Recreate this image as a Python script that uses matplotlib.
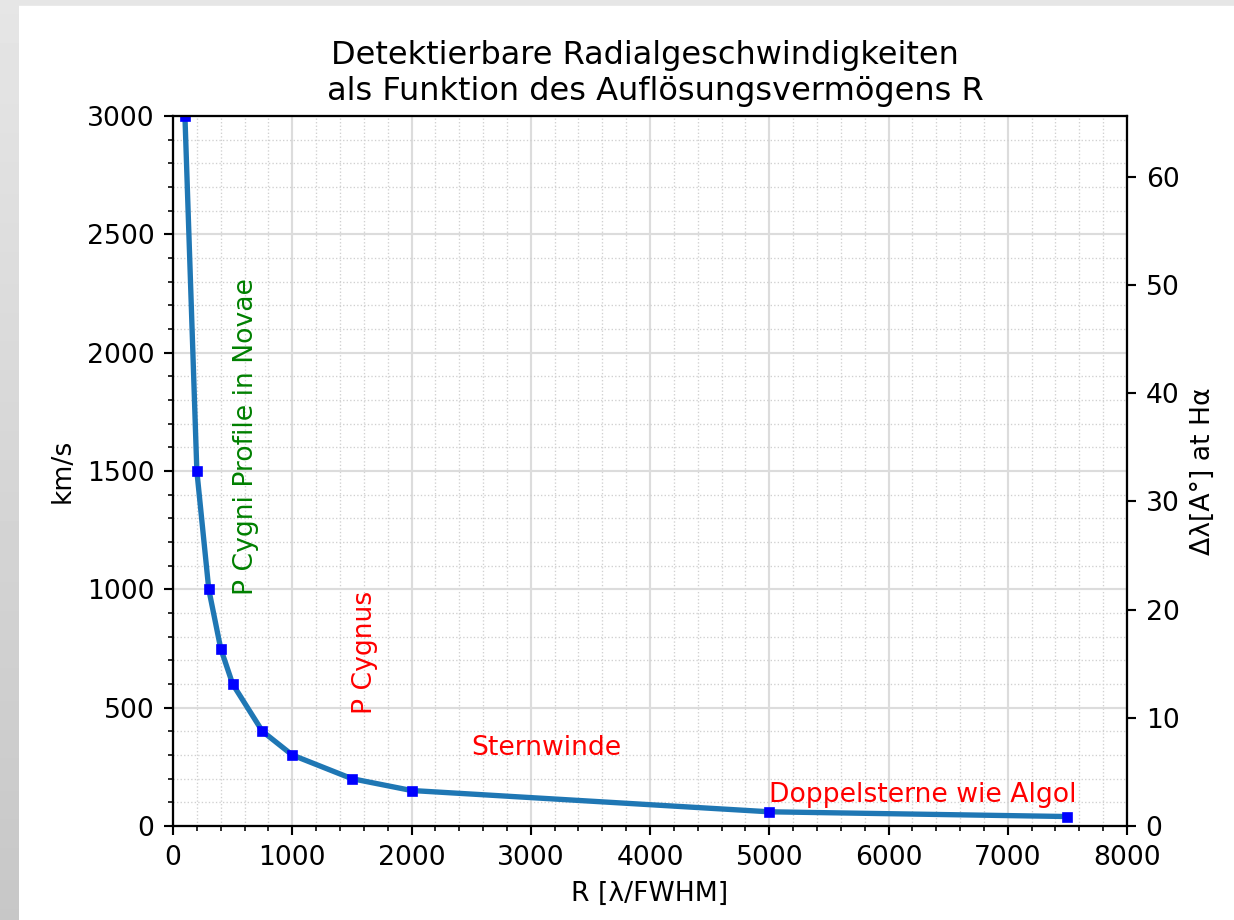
import numpy as np
import matplotlib
matplotlib.use("Agg")
import matplotlib.pyplot as plt
from matplotlib.ticker import MultipleLocator

# Auflösungsvermögen R und detektierbare Geschwindigkeit v = c / R
R = [100, 200, 300, 400, 500, 750, 1000, 1500, 2000, 5000, 7500]
v_kms = [3000, 1500, 1000, 750, 600, 400, 300, 200, 150, 60, 40]
lam_Ha = 6563.0  # Hα in Angstrom

# Beschriftungen der Bereiche: (x, y, text, farbe, drehung)
labels = [
    (500, 1000, "P Cygni Profile in Novae", "green", 90),
    (1500, 500, "P Cygnus", "red", 90),
    (2500, 300, "Sternwinde", "red", 0),
    (5000, 100, "Doppelsterne wie Algol", "red", 0),
]

W, H = 1234, 920
fig = plt.figure(figsize=(W / 192, H / 192), dpi=192)

# grauer Rand links und oben
strip = fig.add_axes([0, 0, 19 / W, 1])
grad = np.linspace(0.90, 0.78, 256).reshape(-1, 1)
strip.imshow(grad, cmap="gray", vmin=0, vmax=1, aspect="auto")
strip.axis("off")
fig.patches.append(plt.Rectangle((0, 1 - 4 / H), 1, 4 / H, transform=fig.transFigure,
                                 color="#e6e6e6", zorder=0))

ax = fig.add_axes([173 / W, 1 - 826 / H, (1127 - 173) / W, (826 - 116) / H])
ax.plot(R, v_kms, color="tab:blue", lw=2, marker="s", ms=3,
        mfc="blue", mec="blue")

ax.set_xlim(0, 8000)
ax.set_ylim(0, 3000)
ax.xaxis.set_major_locator(MultipleLocator(1000))
ax.xaxis.set_minor_locator(MultipleLocator(200))
ax.yaxis.set_major_locator(MultipleLocator(500))
ax.yaxis.set_minor_locator(MultipleLocator(100))
ax.grid(which="major", color="#dcdcdc", lw=0.8)
ax.grid(which="minor", color="#d0d0d0", lw=0.5, linestyle=":")
ax.set_axisbelow(True)

for x, y, txt, col, rot in labels:
    ax.text(x, y, txt, color=col, rotation=rot)

ax.set_xlabel("R [λ/FWHM]")
ax.set_ylabel("km/s")
ax.set_title("Detektierbare Radialgeschwindigkeiten \n als Funktion des Auflösungsvermögens R")

# rechte Achse: Δλ bei Hα
ax2 = ax.twinx()
ax2.set_ylim(0, lam_Ha / R[0])
ax2.set_ylabel("Δλ[A°] at Hα")

fig.savefig("out.png", dpi=192)
